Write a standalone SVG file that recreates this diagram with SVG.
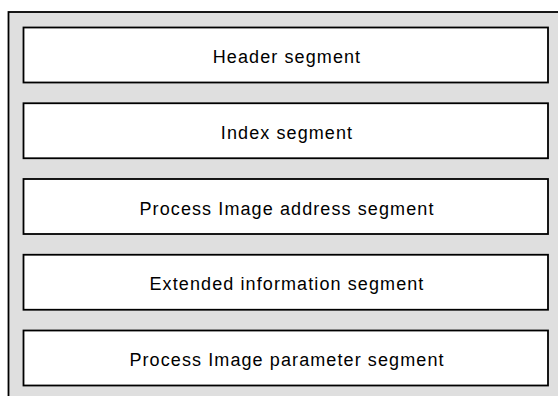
<svg xmlns="http://www.w3.org/2000/svg" width="558" height="396" viewBox="0 0 558 396">
  <style>
    .frame { fill: #dfdfdf; stroke: #000; stroke-width: 1.8; }
    .seg rect { fill: #fff; stroke: #000; stroke-width: 1.8; }
    .seg text { font-family: "Liberation Sans", Arial, sans-serif; font-size: 18px; letter-spacing: 1.1px; fill: #000; text-anchor: middle; }
  </style>
  <rect width="558" height="396" fill="#fff"/>
  <rect class="frame" x="8.5" y="12" width="560" height="400"/>
  <g id="header" class="seg">
    <rect x="23.5" y="27.5" width="524.5" height="55"/>
    <text x="287" y="63">Header segment</text>
  </g>
  <g id="index" class="seg">
    <rect x="23.5" y="103.25" width="524.5" height="55"/>
    <text x="287" y="138.75">Index segment</text>
  </g>
  <g id="process-image-address" class="seg">
    <rect x="23.5" y="179" width="524.5" height="55"/>
    <text x="287" y="214.5">Process Image address segment</text>
  </g>
  <g id="extended-information" class="seg">
    <rect x="23.5" y="254.75" width="524.5" height="55"/>
    <text x="287" y="290.25">Extended information segment</text>
  </g>
  <g id="process-image-parameter" class="seg">
    <rect x="23.5" y="330.5" width="524.5" height="55"/>
    <text x="287" y="366">Process Image parameter segment</text>
  </g>
  <g id="connectors"/>
</svg>
